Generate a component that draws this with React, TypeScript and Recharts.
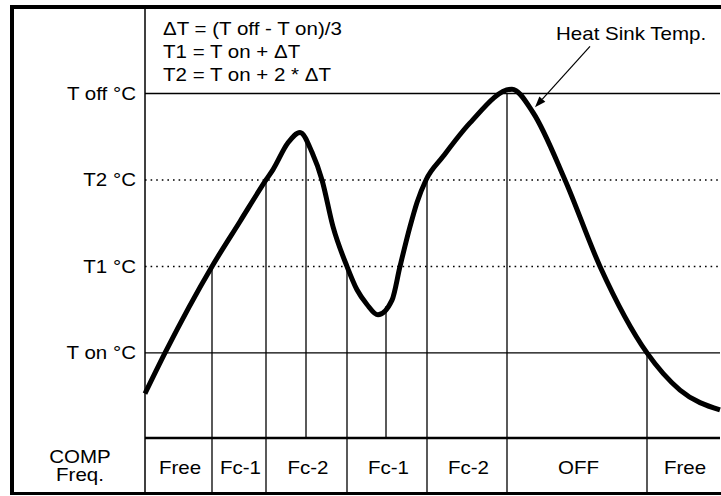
import React from "react";
import { LineChart, Line, XAxis, YAxis, ReferenceLine, ReferenceArea, ReferenceDot } from "recharts";

// ---- data ----
const timeValues = [0, 4, 13.4, 19, 24.2, 25.6, 28.6, 31, 33.4, 35.4, 37.6, 40.4, 42.4, 44.4, 46.6, 49.4, 51, 53, 54.4, 56.2, 59.6, 65, 73.4, 77.6, 84, 91, 100.4, 107, 115];
const tempValues = [-0.47, 0, 1.0, 1.52, 2.0, 2.12, 2.43, 2.55, 2.32, 2.0, 1.46, 1.0, 0.73, 0.56, 0.44, 0.61, 1.0, 1.46, 1.74, 2.0, 2.27, 2.66, 3.05, 2.78, 2.0, 1.0, 0, -0.43, -0.66];

const yTickValues = [3, 2, 1, 0];
const yTickLabels = ["T off \u00b0C", "T2 \u00b0C", "T1 \u00b0C", "T on \u00b0C"];
const yLineDotted = [false, true, true, false];

const eventTimes = [13.4, 24.2, 32.2, 40.4, 48.2, 56.4, 72.4, 100.4];
const eventTemps = [1, 2, 2.47, 1, 0.54, 2, 3, 0];

const bandEdges = [0, 13.4, 24.2, 40.4, 56.4, 72.4, 100.4, 115];
const bandLabels = ["Free", "Fc-1", "Fc-2", "Fc-1", "Fc-2", "OFF", "Free"];
const bandTitle = ["COMP", "Freq."];

const formulaLines = ["\u0394T = (T off - T on)/3", "T1 = T on + \u0394T", "T2 = T on + 2 * \u0394T"];
const curveLabel = "Heat Sink Temp.";

const X_MIN = 0;
const X_MAX = 115;
const Y_MAX = 4;
const BAND_TOP = -0.985;
const BAND_BOTTOM = -1.62;
const BAND_MID = (BAND_TOP + BAND_BOTTOM) / 2;

const data = timeValues.map((t, i) => ({ t, v: tempValues[i] }));

// ---- styles ----
const FONT = "'Liberation Sans', Arial, Helvetica, sans-serif";
const FS = 18;
const SX = 1.14;

const SText = ({ x, y, anchor = "start", children }: any) => (
  <text
    transform={`translate(${x},${y}) scale(${SX},1)`}
    x={0}
    y={0}
    textAnchor={anchor}
    fontFamily={FONT}
    fontSize={FS}
    fill="#000"
  >
    {children}
  </text>
);

const YTick = (props: any) => {
  const { x, y, payload } = props;
  const idx = yTickValues.indexOf(payload.value);
  if (idx >= 0) {
    return <SText x={x} y={y + 6.5} anchor="end">{yTickLabels[idx]}</SText>;
  }
  const cx = x - 56;
  return (
    <g>
      <SText x={cx} y={y - 2.5} anchor="middle">{bandTitle[0]}</SText>
      <SText x={cx} y={y + 15.5} anchor="middle">{bandTitle[1]}</SText>
    </g>
  );
};

const FormulaShape = (props: any) => {
  const { cx, cy } = props;
  return (
    <g>
      {formulaLines.map((s, i) => (
        <SText key={i} x={cx} y={cy + i * 23}>{s}</SText>
      ))}
    </g>
  );
};

const ArrowShape = (props: any) => {
  const { x1, y1, x2, y2 } = props;
  const ang = Math.atan2(y2 - y1, x2 - x1);
  const L = 11;
  const W = 4;
  const bx = x2 - L * Math.cos(ang);
  const by = y2 - L * Math.sin(ang);
  const px = -Math.sin(ang) * W;
  const py = Math.cos(ang) * W;
  return (
    <g>
      <line x1={x1} y1={y1} x2={bx} y2={by} stroke="#000" strokeWidth={1.2} />
      <polygon points={`${x2},${y2} ${bx + px},${by + py} ${bx - px},${by - py}`} fill="#000" />
      <SText x={x1 - 34} y={y1 - 6}>{curveLabel}</SText>
    </g>
  );
};

const LINE = "#000";

export default function App() {
  return (
    <div style={{ position: "absolute", left: 0, top: 0, width: 721, height: 496, background: "#fff" }}>
      <LineChart width={721} height={496} data={data} margin={{ top: 7, right: 1, bottom: 3, left: 0 }}>
        <XAxis type="number" dataKey="t" domain={[X_MIN, X_MAX]} hide />
        <YAxis
          type="number"
          domain={[BAND_BOTTOM, Y_MAX]}
          ticks={[...yTickValues, BAND_MID]}
          width={145}
          tickLine={false}
          tickSize={0}
          tickMargin={9}
          axisLine={{ stroke: LINE, strokeWidth: 1.5 }}
          tick={<YTick />}
          interval={0}
          allowDataOverflow
        />
        {yTickValues.map((v, i) => (
          <ReferenceLine
            key={"h" + i}
            y={v}
            stroke={LINE}
            strokeWidth={yLineDotted[i] ? 1.6 : 1.3}
            strokeDasharray={yLineDotted[i] ? "1.6 4" : undefined}
          />
        ))}
        <ReferenceLine y={BAND_TOP} stroke={LINE} strokeWidth={2.5} />
        {eventTimes.map((t, i) => (
          <ReferenceLine
            key={"e" + i}
            segment={[{ x: t, y: eventTemps[i] }, { x: t, y: BAND_TOP }]}
            stroke={LINE}
            strokeWidth={1.3}
          />
        ))}
        {bandEdges.slice(1, -1).map((t, i) => (
          <ReferenceLine
            key={"b" + i}
            segment={[{ x: t, y: BAND_TOP }, { x: t, y: BAND_BOTTOM }]}
            stroke={LINE}
            strokeWidth={1.3}
          />
        ))}
        {bandLabels.map((lab, i) => (
          <ReferenceArea
            key={"a" + i}
            x1={bandEdges[i]}
            x2={bandEdges[i + 1]}
            y1={BAND_BOTTOM}
            y2={BAND_TOP}
            fill="none"
            fillOpacity={0}
            stroke="none"
            label={(p: any) => {
              const vb = p.viewBox;
              return <SText x={vb.x + vb.width / 2 + 1.5} y={vb.y + vb.height / 2 + 8} anchor="middle">{lab}</SText>;
            }}
          />
        ))}
        <Line
          type="monotone"
          dataKey="v"
          stroke="#000"
          strokeWidth={5}
          dot={false}
          activeDot={false}
          isAnimationActive={false}
        />
        <ReferenceLine segment={[{ x: 89, y: 3.545 }, { x: 78, y: 2.84 }]} shape={ArrowShape} />
        <ReferenceDot x={3.6} y={3.68} r={0} shape={FormulaShape} />
      </LineChart>
      <div style={{ position: "absolute", left: 10, top: 5, width: 711, height: 4, background: "#000" }} />
      <div style={{ position: "absolute", left: 10, top: 5, width: 4, height: 490, background: "#000" }} />
      <div style={{ position: "absolute", left: 10, top: 492, width: 711, height: 2.5, background: "#000" }} />
    </div>
  );
}
